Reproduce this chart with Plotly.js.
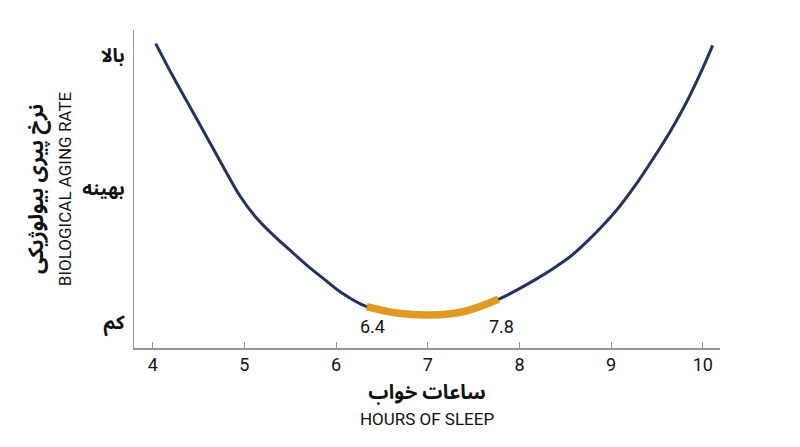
<!DOCTYPE html>
<html>
<head>
<meta charset="utf-8">
<script src="https://cdn.plot.ly/plotly-3.0.1.min.js"></script>
<style>html,body{margin:0;padding:0;background:#fff;}#chart{width:800px;height:447px;}</style>
</head>
<body>
<div id="chart"></div>
<script>
// Curve (hours of sleep vs. relative aging rate level)
const curveHours = [4.033, 4.225, 4.407, 4.589, 4.770, 4.952, 5.120, 5.315, 5.497, 5.679, 5.860, 6.043, 6.334, 6.661, 7.024, 7.387, 7.770, 8.005, 8.195, 8.369, 8.551, 8.733, 8.914, 9.096, 9.278, 9.459, 9.641, 9.823, 10.004, 10.107];
const curveRate  = [3.088, 2.837, 2.613, 2.388, 2.163, 1.945, 1.790, 1.652, 1.539, 1.427, 1.327, 1.227, 1.115, 1.067, 1.052, 1.077, 1.170, 1.252, 1.327, 1.402, 1.489, 1.601, 1.727, 1.870, 2.039, 2.226, 2.425, 2.650, 2.912, 3.075];
// Optimal band
const optHours = [6.334, 6.661, 7.024, 7.387, 7.770];
const optRate  = [1.115, 1.067, 1.052, 1.077, 1.170];
const optLabels = ["6.4", "7.8"];
const optLabelHours = [6.4, 7.8];
const optLabelRate = 0.963;
// Axis ticks
const xTicks = [4, 5, 6, 7, 8, 9, 10];
const yTickVals = [1, 2, 3];
const yTickText = ["کم", "بهینه", "بالا"];

const navy = "#1f355e";
const orange = "#e09a22";
const baseFont = "Roboto, 'Noto Sans Arabic', 'DejaVu Sans', sans-serif";

const traces = [
  {x: curveHours, y: curveRate, mode: "lines", line: {color: navy, width: 3, shape: "spline", smoothing: 1}, hoverinfo: "skip"},
  {x: optHours, y: optRate, mode: "lines", line: {color: orange, width: 7.5, shape: "spline", smoothing: 1}, hoverinfo: "skip"}
];

const annotations = optLabels.map((t, i) => ({
  x: optLabelHours[i], y: optLabelRate, text: t, showarrow: false,
  font: {family: baseFont, size: 18, color: "#111"}, xanchor: "center", yanchor: "middle"
}));

const layout = {
  width: 800, height: 447,
  margin: {l: 134, r: 80, t: 30, b: 99},
  paper_bgcolor: "#fff", plot_bgcolor: "#fff",
  showlegend: false,
  font: {family: baseFont, color: "#111"},
  xaxis: {
    range: [3.796, 10.187], tickvals: xTicks, ticktext: xTicks.map(String),
    showgrid: false, zeroline: false,
    showline: true, linecolor: "#8e93a6", linewidth: 1.5,
    ticks: "inside", ticklen: 6, tickcolor: "#8e93a6", tickwidth: 1,
    tickfont: {family: baseFont, size: 18, color: "#111"},
    title: {text: "<b>ساعات خواب</b><br><span style='font-size:17px'>HOURS OF SLEEP</span>",
            font: {family: baseFont, size: 20, color: "#111"}, standoff: 11}
  },
  yaxis: {
    range: [0.805, 3.19], tickvals: yTickVals, ticktext: yTickText.map(t => "<b>" + t + "</b>"),
    showgrid: false, zeroline: false,
    showline: true, linecolor: "#8e93a6", linewidth: 1.5,
    ticks: "", ticklabelstandoff: 4,
    tickfont: {family: baseFont, size: 19, color: "#111"},
    title: {text: "<b>نرخ پیری بیولوژیکی</b><br><span style='font-size:17px'>BIOLOGICAL AGING RATE</span>",
            font: {family: baseFont, size: 21, color: "#111"}, standoff: 5}
  },
  annotations: annotations
};

Plotly.newPlot("chart", traces, layout, {displayModeBar: false, staticPlot: true});
</script>
</body>
</html>
